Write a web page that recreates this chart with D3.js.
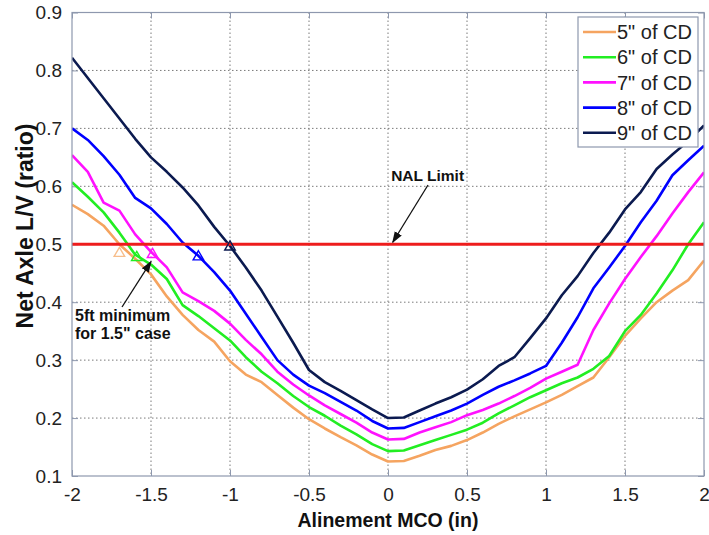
<!DOCTYPE html>
<html>
<head>
<meta charset="utf-8">
<script src="https://cdn.jsdelivr.net/npm/d3@7"></script>
<style>
  html, body { margin: 0; padding: 0; background: #fff; }
  svg { display: block; font-family: "Liberation Sans", Arial, Helvetica, sans-serif; }
</style>
</head>
<body>
<svg id="chart" width="709" height="535"></svg>
<script>
// Alinement MCO offsets (in)
const mco = [-2.0, -1.9, -1.8, -1.7, -1.6, -1.5, -1.4, -1.3, -1.2, -1.1, -1.0,
             -0.9, -0.8, -0.7, -0.6, -0.5, -0.4, -0.3, -0.2, -0.1, 0.0,
              0.1,  0.2,  0.3,  0.4,  0.5,  0.6,  0.7,  0.8,  0.9, 1.0,
              1.1,  1.2,  1.3,  1.4,  1.5,  1.6,  1.7,  1.8,  1.9, 2.0];

// Net axle L/V ratio for each cross-level deviation
const cd5 = [0.568, 0.552, 0.532, 0.500, 0.475, 0.448, 0.410, 0.378, 0.352, 0.332, 0.298,
             0.275, 0.262, 0.240, 0.218, 0.198, 0.182, 0.167, 0.153, 0.137, 0.125,
             0.126, 0.135, 0.145, 0.152, 0.162, 0.175, 0.190, 0.203, 0.215, 0.227,
             0.240, 0.255, 0.270, 0.305, 0.342, 0.372, 0.400, 0.420, 0.438, 0.472];
const cd6 = [0.607, 0.582, 0.555, 0.520, 0.482, 0.465, 0.440, 0.395, 0.376, 0.355, 0.334,
             0.305, 0.280, 0.260, 0.238, 0.219, 0.204, 0.187, 0.172, 0.155, 0.143,
             0.144, 0.153, 0.162, 0.171, 0.180, 0.192, 0.208, 0.222, 0.236, 0.248,
             0.260, 0.270, 0.285, 0.307, 0.350, 0.378, 0.415, 0.455, 0.500, 0.538];
const cd7 = [0.654, 0.625, 0.572, 0.558, 0.517, 0.487, 0.460, 0.417, 0.402, 0.385, 0.363,
             0.335, 0.310, 0.280, 0.258, 0.239, 0.222, 0.207, 0.192, 0.175, 0.163,
             0.164, 0.175, 0.184, 0.193, 0.205, 0.214, 0.225, 0.238, 0.252, 0.268,
             0.280, 0.292, 0.352, 0.398, 0.440, 0.478, 0.514, 0.553, 0.590, 0.624];
const cd8 = [0.700, 0.680, 0.652, 0.620, 0.580, 0.562, 0.535, 0.503, 0.480, 0.452, 0.420,
             0.380, 0.340, 0.300, 0.275, 0.256, 0.243, 0.228, 0.213, 0.195, 0.182,
             0.183, 0.193, 0.203, 0.213, 0.225, 0.240, 0.254, 0.265, 0.277, 0.290,
             0.330, 0.374, 0.424, 0.460, 0.497, 0.538, 0.575, 0.619, 0.645, 0.670];
const cd9 = [0.822, 0.787, 0.752, 0.717, 0.682, 0.650, 0.625, 0.598, 0.567, 0.530, 0.497,
             0.460, 0.420, 0.375, 0.330, 0.283, 0.262, 0.247, 0.231, 0.215, 0.200,
             0.201, 0.213, 0.225, 0.236, 0.249, 0.267, 0.290, 0.305, 0.338, 0.372,
             0.412, 0.445, 0.485, 0.520, 0.560, 0.590, 0.630, 0.655, 0.678, 0.705];

const seriesNames  = ['5" of CD', '6" of CD', '7" of CD', '8" of CD', '9" of CD'];
const seriesColors = ['#F5A460', '#22EE22', '#FF11FF', '#0000FF', '#0B1A50'];
const seriesValues = [cd5, cd6, cd7, cd8, cd9];

// Points where each curve reaches the limit (triangle markers)
const limitHitX = [-1.70, -1.59, -1.49, -1.20, -1.00];
const limitHitY = [0.486, 0.479, 0.484, 0.480, 0.497];

const nalLimit = 0.5;
const xTicks = [-2, -1.5, -1, -0.5, 0, 0.5, 1, 1.5, 2];
const yTicks = [0.1, 0.2, 0.3, 0.4, 0.5, 0.6, 0.7, 0.8, 0.9];

const svg = d3.select('#chart');
const W = 709, H = 535;
const margin = { left: 72, right: 5, top: 12.5, bottom: 59 };
const plotW = W - margin.left - margin.right;
const plotH = H - margin.top - margin.bottom;

const x = d3.scaleLinear().domain([-2, 2]).range([margin.left, margin.left + plotW]);
const y = d3.scaleLinear().domain([0.1, 0.9]).range([margin.top + plotH, margin.top]);

const frameColor = '#8E98AE';
const gridColor = '#7A7A7A';

svg.append('defs').append('clipPath').attr('id', 'plotClip')
  .append('rect').attr('x', margin.left).attr('y', margin.top)
  .attr('width', plotW).attr('height', plotH);

// Dotted grid
const grid = svg.append('g');
grid.selectAll('line.gx').data(xTicks.slice(1, -1)).join('line')
  .attr('x1', d => x(d)).attr('x2', d => x(d))
  .attr('y1', margin.top).attr('y2', margin.top + plotH)
  .attr('stroke', gridColor).attr('stroke-width', 1).attr('stroke-dasharray', '1.5,2.5');
grid.selectAll('line.gy').data(yTicks.slice(1, -1)).join('line')
  .attr('y1', d => y(d)).attr('y2', d => y(d))
  .attr('x1', margin.left).attr('x2', margin.left + plotW)
  .attr('stroke', gridColor).attr('stroke-width', 1).attr('stroke-dasharray', '1.5,2.5');

// Axes (ticks point inward, labels outside)
const fmt = v => String(v);
const xAxis = svg.append('g').attr('transform', `translate(0,${margin.top + plotH})`)
  .call(d3.axisBottom(x).tickValues(xTicks).tickFormat(fmt).tickSizeInner(-6).tickSizeOuter(0).tickPadding(12));
const xAxisTop = svg.append('g').attr('transform', `translate(0,${margin.top})`)
  .call(d3.axisTop(x).tickValues(xTicks).tickFormat('').tickSizeInner(-6).tickSizeOuter(0));
const yAxis = svg.append('g').attr('transform', `translate(${margin.left},0)`)
  .call(d3.axisLeft(y).tickValues(yTicks).tickFormat(fmt).tickSizeInner(-6).tickSizeOuter(0).tickPadding(10));
const yAxisRight = svg.append('g').attr('transform', `translate(${margin.left + plotW},0)`)
  .call(d3.axisRight(y).tickValues(yTicks).tickFormat('').tickSizeInner(-6).tickSizeOuter(0));

[xAxis, xAxisTop, yAxis, yAxisRight].forEach(g => {
  g.select('.domain').remove();
  g.selectAll('line').attr('stroke', frameColor);
  g.selectAll('text').attr('font-size', 19).attr('fill', '#222')
    .attr('font-family', '"Liberation Sans", Arial, sans-serif');
});

// Curves
const line = d3.line().x((d, i) => x(mco[i])).y(d => y(d));
const curves = svg.append('g').attr('clip-path', 'url(#plotClip)');
seriesValues.forEach((vals, s) => {
  curves.append('path').datum(vals)
    .attr('d', line)
    .attr('fill', 'none')
    .attr('stroke', seriesColors[s])
    .attr('stroke-width', 2.6)
    .attr('stroke-linejoin', 'round');
});

// NAL limit line
curves.append('line')
  .attr('x1', x(-2)).attr('x2', x(2))
  .attr('y1', y(nalLimit)).attr('y2', y(nalLimit))
  .attr('stroke', '#EE1C1C').attr('stroke-width', 3);

// Triangle markers
const tri = d3.symbol().type(d3.symbolTriangle).size(48);
svg.append('g').selectAll('path').data(limitHitX).join('path')
  .attr('d', tri)
  .attr('transform', (d, i) => `translate(${x(d)},${y(limitHitY[i]) + 1})`)
  .attr('fill', 'none')
  .attr('stroke', (d, i) => i === 0 ? '#F7BE8C' : seriesColors[i])
  .attr('stroke-width', 1.4);

// Plot frame
svg.append('rect')
  .attr('x', margin.left).attr('y', margin.top)
  .attr('width', plotW).attr('height', plotH)
  .attr('fill', 'none').attr('stroke', frameColor).attr('stroke-width', 1.2);

// Annotations with arrows
const defs = svg.select('defs');
defs.append('marker').attr('id', 'arrowHead')
  .attr('viewBox', '0 0 10 10').attr('refX', 9).attr('refY', 5)
  .attr('markerWidth', 9).attr('markerHeight', 9).attr('orient', 'auto')
  .append('path').attr('d', 'M0,1.5 L10,5 L0,8.5 Z').attr('fill', '#111');

const ann = svg.append('g').attr('font-weight', 'bold').attr('fill', '#111');
ann.append('text').attr('x', x(0.02)).attr('y', 181)
  .attr('font-size', 15.5).text('NAL Limit');
ann.append('line')
  .attr('x1', 428).attr('y1', 185).attr('x2', x(0.03)).attr('y2', y(nalLimit) - 2)
  .attr('stroke', '#111').attr('stroke-width', 1.3).attr('marker-end', 'url(#arrowHead)');

ann.append('text').attr('x', 75).attr('y', 321).attr('font-size', 16).text('5ft minimum');
ann.append('text').attr('x', 75).attr('y', 339).attr('font-size', 16).text('for 1.5" case');
ann.append('line')
  .attr('x1', 122).attr('y1', 307).attr('x2', x(-1.5)).attr('y2', y(0.47))
  .attr('stroke', '#111').attr('stroke-width', 1.3).attr('marker-end', 'url(#arrowHead)');

// Axis titles
svg.append('text')
  .attr('x', x(0)).attr('y', 527)
  .attr('text-anchor', 'middle').attr('font-weight', 'bold').attr('font-size', 19.5)
  .attr('fill', '#111').text('Alinement MCO (in)');
svg.append('text')
  .attr('transform', `translate(33,${226}) rotate(-90)`)
  .attr('text-anchor', 'middle').attr('font-weight', 'bold').attr('font-size', 23)
  .attr('fill', '#111').text('Net Axle L/V (ratio)');

// Legend
const lg = svg.append('g');
lg.append('rect').attr('x', 578).attr('y', 17).attr('width', 120).attr('height', 130)
  .attr('fill', '#fff').attr('stroke', frameColor).attr('stroke-width', 1.2);
seriesNames.forEach((name, i) => {
  const cy = 32 + i * 25.2;
  lg.append('line').attr('x1', 583).attr('x2', 616).attr('y1', cy).attr('y2', cy)
    .attr('stroke', seriesColors[i]).attr('stroke-width', 2.6);
  lg.append('text').attr('x', 617).attr('y', cy).attr('dy', '0.36em')
    .attr('font-size', 20).attr('fill', '#222').text(name);
});
</script>
</body>
</html>
